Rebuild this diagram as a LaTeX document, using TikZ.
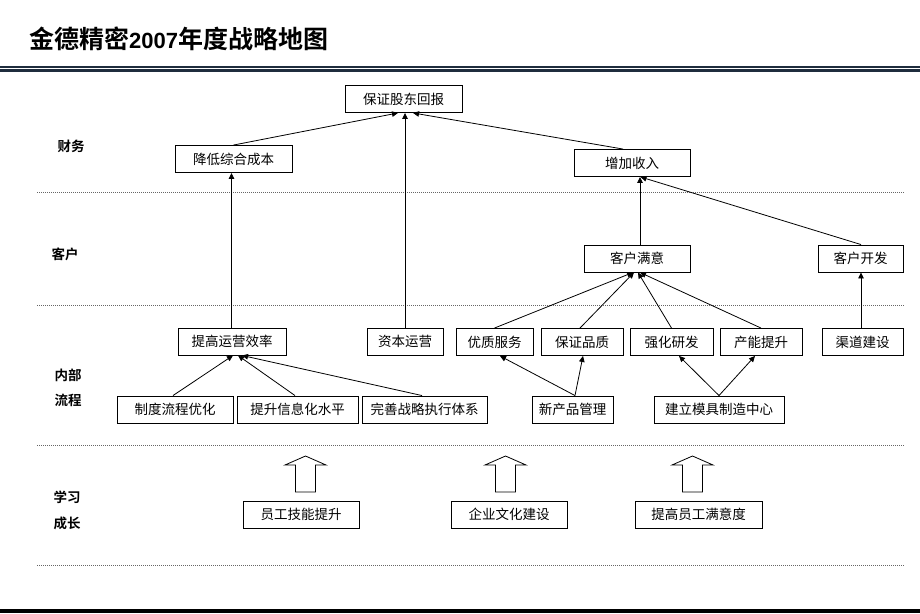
\documentclass[tikz,border=0pt]{standalone}
\usepackage{fontspec}
\newfontfamily\cjk[BoldFont={Noto Sans CJK SC Bold}]{Noto Sans CJK SC}
\newfontfamily\latb{Liberation Sans Bold}
\usetikzlibrary{arrows.meta}
\definecolor{navy}{HTML}{1F2D3D}
\tikzset{
  box/.style={draw, line width=0.9pt, inner sep=0pt, minimum height=27, fill=white,
    font=\cjk\fontsize{13.5}{14}\selectfont},
  lnk/.style={-{Triangle[length=6,width=5.5]}, line width=0.8pt},
  sepline/.style={black!60, line width=0.8pt, dash pattern=on 1pt off 1pt},
  lab/.style={font=\cjk\bfseries\fontsize{13.5}{14}\selectfont},
  fat/.style={draw, line width=0.8pt, fill=white, line join=miter}
}
\begin{document}
\begin{tikzpicture}[x=1pt,y=-1pt]
\useasboundingbox (0,0) rectangle (920,613);
% header
\node[anchor=west, inner sep=0pt] (title) at (29,39)
  {\cjk\bfseries\fontsize{25}{27}\selectfont 金德精密{\latb\fontsize{22}{24}\selectfont 2007}年度战略地图};
\draw[navy, line width=1.3pt] (0,67) -- (920,67);
\fill[navy] (0,68.8) rectangle (920,72.2);
\fill[black] (0,609) rectangle (920,613);
% separators
\foreach \yy in {192,305,445,565} \draw[sepline] (37,\yy) -- (904,\yy);
% row labels
\node[lab] (lf) at (71,146) {财务};
\node[lab] (lc) at (65,254) {客户};
\node[lab] (lp1) at (68,375) {内部};
\node[lab] (lp2) at (68,400) {流程};
\node[lab] (ll1) at (67,497) {学习};
\node[lab] (ll2) at (67,523) {成长};
% finance
\node[box, minimum width=117] (n1) at (403.5,99) {保证股东回报};
\node[box, minimum width=117] (f1) at (233.5,159) {降低综合成本};
\node[box, minimum width=116] (f2) at (632,163) {增加收入};
% customer
\node[box, minimum width=106] (c1) at (637,258.5) {客户满意};
\node[box, minimum width=85] (c2) at (860.5,258.5) {客户开发};
% process upper
\node[box, minimum width=108] (p1) at (232,341.5) {提高运营效率};
\node[box, minimum width=76] (p2) at (405,341.5) {资本运营};
\node[box, minimum width=77] (p3) at (494.5,342) {优质服务};
\node[box, minimum width=82] (p4) at (582,342) {保证品质};
\node[box, minimum width=83] (p5) at (671.5,342) {强化研发};
\node[box, minimum width=82] (p6) at (761,342) {产能提升};
\node[box, minimum width=81] (p7) at (862.5,342) {渠道建设};
% process lower
\node[box, minimum width=116] (q1) at (175,409.5) {制度流程优化};
\node[box, minimum width=121] (q2) at (297.5,409.5) {提升信息化水平};
\node[box, minimum width=125] (q3) at (424.5,409.5) {完善战略执行体系};
\node[box, minimum width=81] (q4) at (572.5,409.5) {新产品管理};
\node[box, minimum width=130] (q5) at (719,409.5) {建立模具制造中心};
% learning
\node[box, minimum width=116] (l1) at (301,514.5) {员工技能提升};
\node[box, minimum width=116] (l2) at (509,514.5) {企业文化建设};
\node[box, minimum width=127] (l3) at (698.5,514.5) {提高员工满意度};
% connectors
\draw[lnk] (f1.north) -- ([xshift=-5.5]n1.south);
\draw[lnk] (p2.north) -- ([xshift=1.5]n1.south);
\draw[lnk] ([xshift=-9]f2.north) -- ([xshift=9.5]n1.south);
\draw[lnk] ([xshift=3]c1.north) -- ([xshift=8]f2.south);
\draw[lnk] ([xshift=0.5]c2.north) -- ([xshift=8.5]f2.south);
\draw[lnk] ([xshift=-1.5]p7.north) -- ([xshift=0.5]c2.south);
\draw[lnk] ([xshift=-0.5]p1.north) -- ([xshift=-2]f1.south);
\draw[lnk] (p3.north) -- ([xshift=-4]c1.south);
\draw[lnk] ([xshift=-2]p4.north) -- ([xshift=-3]c1.south);
\draw[lnk] (p5.north) -- ([xshift=1]c1.south);
\draw[lnk] (p6.north) -- ([xshift=3]c1.south);
\draw[lnk] ([xshift=2.5]q4.north) -- ([xshift=5.5]p3.south);
\draw[lnk] ([xshift=2.5]q4.north) -- ([xshift=1]p4.south);
\draw[lnk] (q5.north) -- ([xshift=7.5]p5.south);
\draw[lnk] (q5.north) -- ([xshift=-6]p6.south);
\draw[lnk] ([xshift=-2]q1.north) -- ([xshift=1]p1.south);
\draw[lnk] ([xshift=-2.5]q2.north) -- ([xshift=6]p1.south);
\draw[lnk] ([xshift=-2.5]q3.north) -- ([xshift=10]p1.south);
% block arrows
\foreach \cx/\nm in {305.5/a1,505.5/a2,692.5/a3}{
  \coordinate (\nm) at (\cx,456);
  \draw[fat] (\nm) -- ++(20.5,9) -- ++(-10.5,0) -- ++(0,27) -- ++(-20,0) -- ++(0,-27) -- ++(-10.5,0) -- cycle;
}
\end{tikzpicture}
\end{document}
